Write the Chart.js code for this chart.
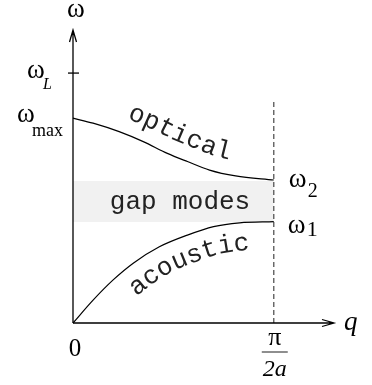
<!DOCTYPE html>
<html>
<head>
<meta charset="utf-8">
<script src="https://cdn.jsdelivr.net/npm/chart.js@4.4.1/dist/chart.umd.min.js"></script>
<style>
    html, body { margin: 0; padding: 0; background: #fff; }
    #wrap { width: 372px; height: 385px; }
</style>
</head>
<body>
<div id="wrap"><canvas id="dispersion" width="372" height="385"></canvas></div>
<script>
// Phonon branches of a diatomic chain, q in units of pi/2a
const qOptical = [0, 0.10, 0.23, 0.35, 0.47, 0.57, 0.68, 0.81, 1.0];
const wOptical = [0.699, 0.682, 0.653, 0.619, 0.579, 0.551, 0.522, 0.502, 0.488];
const qAcoustic = [0, 0.10, 0.20, 0.30, 0.43, 0.57, 0.70, 0.83, 1.0];
const wAcoustic = [0, 0.078, 0.147, 0.204, 0.260, 0.300, 0.329, 0.342, 0.346];

// Special frequencies and the zone edge
const wL = 0.853;
const wMax = 0.699;
const w2 = 0.488;
const w1 = 0.346;
const gapTop = 0.485;
const gapBottom = 0.345;
const qEdge = 1.0;
const edgeTop = 0.755;
const qMax = 1.3;
const wTop = 1.0;

const SERIF = '"Liberation Serif", serif';
const MONO = '"Liberation Mono", monospace';

function toPoints(xs, ys) {
    return xs.map((x, i) => ({ x: x, y: ys[i] }));
}

// Walk along a drawn line element in 0.5px steps
function sampleCurve(chart, index) {
    const meta = chart.getDatasetMeta(index);
    const pts = meta.data;
    const out = [];
    const first = pts[0].x, last = pts[pts.length - 1].x;
    for (let px = first; px <= last; px += 0.5) {
        let p = meta.dataset.interpolate({ x: px }, 'x');
        if (Array.isArray(p)) p = p[0];
        if (p) out.push({ x: px, y: p.y });
    }
    return out;
}

// Parallel path at distance d (positive = above the curve)
function offsetPath(path, d) {
    return path.map((p, i) => {
        const a = path[Math.max(i - 4, 0)];
        const b = path[Math.min(i + 4, path.length - 1)];
        const len = Math.hypot(b.x - a.x, b.y - a.y) || 1;
        const tx = (b.x - a.x) / len, ty = (b.y - a.y) / len;
        return { x: p.x + d * ty, y: p.y - d * tx, curveX: p.x };
    });
}

function drawAlong(ctx, path, text, startPx, advance) {
    const s = [0];
    for (let i = 1; i < path.length; i++) {
        s.push(s[i - 1] + Math.hypot(path[i].x - path[i - 1].x, path[i].y - path[i - 1].y));
    }
    let startIdx = path.findIndex(p => p.curveX >= startPx);
    if (startIdx < 0) startIdx = 0;
    const s0 = s[startIdx];
    [...text].forEach((ch, k) => {
        const target = s0 + (k + 0.5) * advance;
        let i = 1;
        while (i < path.length - 1 && s[i] < target) i++;
        const f = Math.min(1, (target - s[i - 1]) / ((s[i] - s[i - 1]) || 1));
        const px = path[i - 1].x + f * (path[i].x - path[i - 1].x);
        const py = path[i - 1].y + f * (path[i].y - path[i - 1].y);
        const a = path[Math.max(i - 6, 0)], b = path[Math.min(i + 6, path.length - 1)];
        const ang = Math.atan2(b.y - a.y, b.x - a.x);
        ctx.save();
        ctx.translate(px, py);
        ctx.rotate(ang);
        ctx.fillText(ch, 0, 0);
        ctx.restore();
    });
}

const decorations = {
    id: 'decorations',
    afterDatasetsDraw(chart) {
        const { ctx, scales: { x, y } } = chart;
        const x0 = x.getPixelForValue(0), y0 = y.getPixelForValue(0);
        const xEnd = x.getPixelForValue(qMax), yEnd = y.getPixelForValue(wTop);
        const xEdge = x.getPixelForValue(qEdge);

        ctx.save();
        // axes with open arrowheads
        ctx.strokeStyle = '#000';
        ctx.lineWidth = 1.3;
        ctx.beginPath();
        ctx.moveTo(x0, y0); ctx.lineTo(x0, yEnd);
        ctx.moveTo(x0, y0); ctx.lineTo(xEnd, y0);
        ctx.moveTo(x0 - 3.5, yEnd + 12); ctx.lineTo(x0, yEnd); ctx.lineTo(x0 + 3.5, yEnd + 12);
        ctx.moveTo(xEnd - 12, y0 - 3.5); ctx.lineTo(xEnd, y0); ctx.lineTo(xEnd - 12, y0 + 3.5);
        ctx.stroke();

        // branch names along the curves
        ctx.fillStyle = '#222';
        ctx.font = '26px ' + MONO;
        ctx.textAlign = 'center';
        ctx.textBaseline = 'alphabetic';
        drawAlong(ctx, offsetPath(sampleCurve(chart, 0), 15), 'optical', x.getPixelForValue(0.24), 15.8);
        drawAlong(ctx, offsetPath(sampleCurve(chart, 1), -28), 'acoustic', x.getPixelForValue(0.224), 15.6);

        // gap label
        ctx.fillText('gap modes', x.getPixelForValue(0.533), y.getPixelForValue(gapBottom) - 13);

        // frequency labels
        ctx.fillStyle = '#000';
        ctx.textAlign = 'center';
        ctx.font = '27px ' + SERIF;
        ctx.fillText('ω', x0 + 3, 17);

        ctx.textAlign = 'left';
        ctx.fillText('ω', 27, y.getPixelForValue(wL) + 5);
        ctx.font = 'italic 16px ' + SERIF;
        ctx.fillText('L', 43, y.getPixelForValue(wL) + 16);

        ctx.font = '27px ' + SERIF;
        ctx.fillText('ω', 17, y.getPixelForValue(wMax) + 4);
        ctx.font = '18px ' + SERIF;
        ctx.fillText('max', 32, y.getPixelForValue(wMax) + 18);

        ctx.font = '27px ' + SERIF;
        ctx.fillText('ω', xEdge + 15, y.getPixelForValue(w2) + 7);
        ctx.font = '20px ' + SERIF;
        ctx.fillText('2', xEdge + 34, y.getPixelForValue(w2) + 17);

        ctx.font = '27px ' + SERIF;
        ctx.fillText('ω', xEdge + 14, y.getPixelForValue(w1) + 11);
        ctx.font = '22px ' + SERIF;
        ctx.fillText('1', xEdge + 33, y.getPixelForValue(w1) + 14);

        // q axis labels
        ctx.textAlign = 'center';
        ctx.font = '25px ' + SERIF;
        ctx.fillText('0', x0 + 2, y0 + 33);
        ctx.font = '26px ' + SERIF;
        ctx.fillText('π', xEdge + 1, y0 + 22);
        ctx.strokeStyle = '#444';
        ctx.lineWidth = 1.2;
        ctx.beginPath();
        ctx.moveTo(xEdge - 12, y0 + 29);
        ctx.lineTo(xEdge + 14, y0 + 29);
        ctx.stroke();
        ctx.font = 'italic 24px ' + SERIF;
        ctx.fillText('2a', xEdge + 1, y0 + 53);

        ctx.textAlign = 'left';
        ctx.font = 'italic 27px ' + SERIF;
        ctx.fillText('q', xEnd + 10, y0 + 7);
        ctx.restore();
    }
};

function buildChart() {
    new Chart(document.getElementById('dispersion'), {
        type: 'line',
        data: {
            datasets: [{
                label: 'optical',
                data: toPoints(qOptical, wOptical),
                borderColor: '#000',
                borderWidth: 1.2,
                cubicInterpolationMode: 'monotone',
                fill: false,
                clip: false,
                order: 1
            }, {
                label: 'acoustic',
                data: toPoints(qAcoustic, wAcoustic),
                borderColor: '#000',
                borderWidth: 1.2,
                cubicInterpolationMode: 'monotone',
                fill: false,
                clip: false,
                order: 1
            }, {
                label: 'zone edge',
                data: [{ x: qEdge, y: 0 }, { x: qEdge, y: edgeTop }],
                borderColor: '#555',
                borderWidth: 1.3,
                borderDash: [5, 3],
                fill: false,
                clip: false,
                order: 2
            }, {
                label: 'wL tick',
                data: [{ x: -0.025, y: wL }, { x: 0.03, y: wL }],
                borderColor: '#000',
                borderWidth: 1.3,
                fill: false,
                clip: false,
                order: 1
            }, {
                label: 'gap top',
                data: [{ x: 0, y: gapTop }, { x: qEdge, y: gapTop }],
                borderColor: 'rgba(0,0,0,0)',
                borderWidth: 0,
                backgroundColor: '#f1f1f1',
                fill: '+1',
                order: 3
            }, {
                label: 'gap bottom',
                data: [{ x: 0, y: gapBottom }, { x: qEdge, y: gapBottom }],
                borderColor: 'rgba(0,0,0,0)',
                borderWidth: 0,
                fill: false,
                order: 3
            }]
        },
        options: {
            responsive: false,
            animation: false,
            devicePixelRatio: 1,
            layout: { padding: { left: 73, right: 38, top: 30, bottom: 62 } },
            elements: { point: { radius: 0 } },
            plugins: {
                legend: { display: false },
                tooltip: { enabled: false }
            },
            scales: {
                x: { type: 'linear', display: false, min: 0, max: qMax },
                y: { type: 'linear', display: false, min: 0, max: wTop }
            }
        },
        plugins: [decorations]
    });
}

// make sure the serif and mono faces are ready before the canvas text is drawn
Promise.all([
    document.fonts.load('25px "Liberation Serif"', 'ω0π'),
    document.fonts.load('italic 25px "Liberation Serif"', 'qaL2'),
    document.fonts.load('26px "Liberation Mono"', 'gap modes')
]).catch(() => {}).then(buildChart);
</script>
</body>
</html>
